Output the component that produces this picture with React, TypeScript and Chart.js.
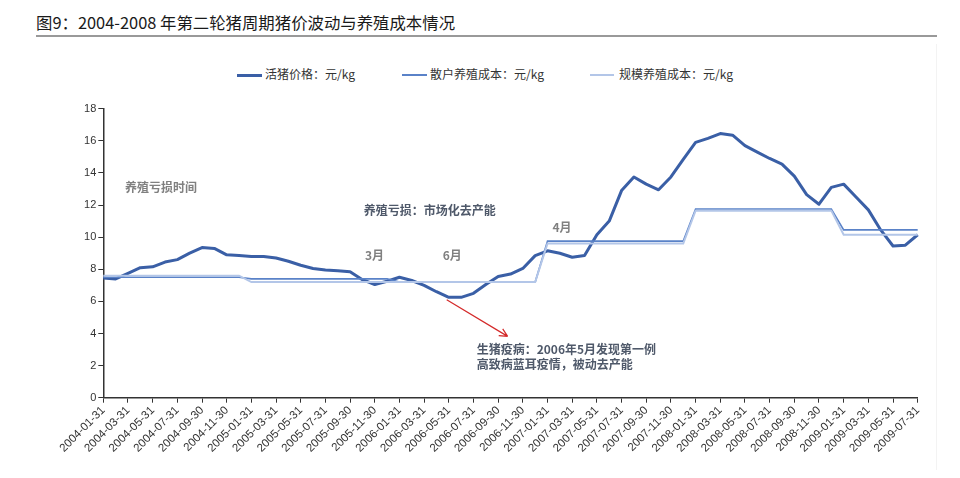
import React, { useEffect, useRef } from "react";
import { Chart, registerables } from "chart.js";

Chart.register(...registerables);

const MONTH_LABELS = [
  "2004-01-31", "2004-02-29", "2004-03-31", "2004-04-30", "2004-05-31", "2004-06-30",
  "2004-07-31", "2004-08-31", "2004-09-30", "2004-10-31", "2004-11-30", "2004-12-31",
  "2005-01-31", "2005-02-28", "2005-03-31", "2005-04-30", "2005-05-31", "2005-06-30",
  "2005-07-31", "2005-08-31", "2005-09-30", "2005-10-31", "2005-11-30", "2005-12-31",
  "2006-01-31", "2006-02-28", "2006-03-31", "2006-04-30", "2006-05-31", "2006-06-30",
  "2006-07-31", "2006-08-31", "2006-09-30", "2006-10-31", "2006-11-30", "2006-12-31",
  "2007-01-31", "2007-02-28", "2007-03-31", "2007-04-30", "2007-05-31", "2007-06-30",
  "2007-07-31", "2007-08-31", "2007-09-30", "2007-10-31", "2007-11-30", "2007-12-31",
  "2008-01-31", "2008-02-29", "2008-03-31", "2008-04-30", "2008-05-31", "2008-06-30",
  "2008-07-31", "2008-08-31", "2008-09-30", "2008-10-31", "2008-11-30", "2008-12-31",
  "2009-01-31", "2009-02-28", "2009-03-31", "2009-04-30", "2009-05-31", "2009-06-30",
  "2009-07-31",
];

// 活猪价格：元/kg
const PRICE = [
  7.45, 7.4, 7.75, 8.1, 8.15, 8.45, 8.6, 9.0, 9.35, 9.3, 8.9, 8.85,
  8.8, 8.8, 8.7, 8.5, 8.25, 8.05, 7.95, 7.9, 7.85, 7.35, 7.05, 7.25,
  7.5, 7.3, 7.0, 6.6, 6.25, 6.25, 6.5, 7.05, 7.55, 7.7, 8.05, 8.85,
  9.15, 9.0, 8.75, 8.85, 10.15, 11.0, 12.9, 13.75, 13.3, 12.95, 13.75, 14.85,
  15.9, 16.15, 16.45, 16.35, 15.7, 15.3, 14.9, 14.55, 13.8, 12.65, 12.05, 13.1,
  13.3, 12.5, 11.7, 10.45, 9.45, 9.5, 10.15,
];

// 散户养殖成本：元/kg
const RETAIL_COST = [
  7.5, 7.5, 7.5, 7.5, 7.5, 7.5, 7.5, 7.5, 7.5, 7.5, 7.5, 7.5,
  7.4, 7.4, 7.4, 7.4, 7.4, 7.4, 7.4, 7.4, 7.4, 7.4, 7.4, 7.4,
  7.2, 7.2, 7.2, 7.2, 7.2, 7.2, 7.2, 7.2, 7.2, 7.2, 7.2, 7.2,
  9.75, 9.75, 9.75, 9.75, 9.75, 9.75, 9.75, 9.75, 9.75, 9.75, 9.75, 9.75,
  11.75, 11.75, 11.75, 11.75, 11.75, 11.75, 11.75, 11.75, 11.75, 11.75, 11.75, 11.75,
  10.45, 10.45, 10.45, 10.45, 10.45, 10.45, 10.45,
];

// 规模养殖成本：元/kg
const SCALE_COST = [
  7.6, 7.6, 7.6, 7.6, 7.6, 7.6, 7.6, 7.6, 7.6, 7.6, 7.6, 7.6,
  7.2, 7.2, 7.2, 7.2, 7.2, 7.2, 7.2, 7.2, 7.2, 7.2, 7.2, 7.2,
  7.2, 7.2, 7.2, 7.2, 7.2, 7.2, 7.2, 7.2, 7.2, 7.2, 7.2, 7.2,
  9.6, 9.6, 9.6, 9.6, 9.6, 9.6, 9.6, 9.6, 9.6, 9.6, 9.6, 9.6,
  11.65, 11.65, 11.65, 11.65, 11.65, 11.65, 11.65, 11.65, 11.65, 11.65, 11.65, 11.65,
  10.15, 10.15, 10.15, 10.15, 10.15, 10.15, 10.15,
];

const SERIES_NAMES = ["活猪价格：元/kg", "散户养殖成本：元/kg", "规模养殖成本：元/kg"];
const TITLE = "图9：2004-2008 年第二轮猪周期猪价波动与养殖成本情况";

const Y_MIN = 0;
const Y_MAX = 18;
const Y_STEP = 2;

const COLORS = {
  price: "#3a5fa6",
  retail: "#5a82c8",
  scale: "#b3c6e8",
  gray: "#808080",
  note: "#4f596a",
  arrow: "#d42a2a",
};

// annotation texts, anchored in data coordinates (category index, value)
const NOTES = [
  { text: "养殖亏损时间", x: 1.76, y: 13.08, color: COLORS.gray },
  { text: "养殖亏损：市场化去产能", x: 21.1, y: 11.64, color: COLORS.note },
  { text: "3月", x: 21.2, y: 8.86, color: COLORS.gray },
  { text: "6月", x: 27.5, y: 8.86, color: COLORS.gray },
  { text: "4月", x: 36.4, y: 10.6, color: COLORS.gray },
  { text: "生猪疫病：2006年5月发现第一例", x: 30.26, y: 3.03, color: COLORS.note },
  { text: "高致病蓝耳疫情，被动去产能", x: 30.26, y: 2.1, color: COLORS.note },
];
const ARROW = { x1: 27.83, y1: 6.1, x2: 32.77, y2: 3.82 };

const CJK = '"Noto Sans CJK SC", "Noto Sans", sans-serif';
const LATIN = '"Liberation Sans", Arial, sans-serif';

const W = 944;
const H = 462;
const AREA_LEFT = 95.3;
const AREA_RIGHT = 909.7;
const AREA_TOP = 100.7;
const AREA_BOTTOM = 389.7;

const notesPlugin = {
  id: "notes",
  afterDatasetsDraw(chart: any) {
    const { ctx } = chart;
    const xs = chart.scales.x;
    const ys = chart.scales.y;
    ctx.save();
    ctx.font = `bold 12px ${CJK}`;
    ctx.textAlign = "left";
    ctx.textBaseline = "middle";
    for (const n of NOTES) {
      ctx.fillStyle = n.color;
      ctx.fillText(n.text, xs.getPixelForValue(n.x), ys.getPixelForValue(n.y));
    }
    const ax1 = xs.getPixelForValue(ARROW.x1);
    const ay1 = ys.getPixelForValue(ARROW.y1);
    const ax2 = xs.getPixelForValue(ARROW.x2);
    const ay2 = ys.getPixelForValue(ARROW.y2);
    ctx.strokeStyle = COLORS.arrow;
    ctx.lineWidth = 1.2;
    ctx.beginPath();
    ctx.moveTo(ax1, ay1);
    ctx.lineTo(ax2, ay2);
    const ang = Math.atan2(ay2 - ay1, ax2 - ax1);
    const len = 9;
    ctx.moveTo(ax2, ay2);
    ctx.lineTo(ax2 - len * Math.cos(ang - 0.45), ay2 - len * Math.sin(ang - 0.45));
    ctx.moveTo(ax2, ay2);
    ctx.lineTo(ax2 - len * Math.cos(ang + 0.45), ay2 - len * Math.sin(ang + 0.45));
    ctx.stroke();
    ctx.restore();
  },
};

export default function App() {
  const canvasRef = useRef<HTMLCanvasElement | null>(null);

  useEffect(() => {
    if (!canvasRef.current) return;
    const chart = new Chart(canvasRef.current, {
      type: "line",
      data: {
        labels: MONTH_LABELS,
        datasets: [
          {
            label: SERIES_NAMES[2],
            data: SCALE_COST,
            borderColor: COLORS.scale,
            backgroundColor: COLORS.scale,
            borderWidth: 2,
            pointRadius: 0,
            tension: 0,
          },
          {
            label: SERIES_NAMES[1],
            data: RETAIL_COST,
            borderColor: COLORS.retail,
            backgroundColor: COLORS.retail,
            borderWidth: 1.6,
            pointRadius: 0,
            tension: 0,
          },
          {
            label: SERIES_NAMES[0],
            data: PRICE,
            borderColor: COLORS.price,
            backgroundColor: COLORS.price,
            borderWidth: 3,
            pointRadius: 0,
            tension: 0,
            borderJoinStyle: "round",
          },
        ],
      },
      options: {
        responsive: false,
        animation: false,
        devicePixelRatio: 1,
        layout: {
          padding: { top: AREA_TOP, left: 0, right: W - AREA_RIGHT, bottom: 0 },
        },
        plugins: {
          legend: { display: false },
          title: { display: false },
          tooltip: { enabled: false },
        },
        scales: {
          x: {
            type: "category",
            offset: false,
            grid: {
              display: true,
              drawOnChartArea: false,
              drawTicks: true,
              tickLength: 5,
              color: "#333",
              lineWidth: 1,
            },
            border: { display: true, color: "#333", width: 1.5 },
            ticks: {
              autoSkip: false,
              minRotation: 45,
              maxRotation: 45,
              padding: 1,
              color: "#333",
              font: { family: LATIN, size: 11.5 },
              callback: (_v: any, i: number) => (i % 2 === 0 ? MONTH_LABELS[i] : null),
            },
            afterFit: (s: any) => {
              s.height = H - AREA_BOTTOM;
            },
          },
          y: {
            min: Y_MIN,
            max: Y_MAX,
            grid: {
              display: true,
              drawOnChartArea: false,
              drawTicks: true,
              tickLength: 5,
              color: "#333",
            },
            border: { display: true, color: "#333", width: 1.5 },
            ticks: {
              stepSize: Y_STEP,
              padding: 2,
              color: "#333",
              font: { family: LATIN, size: 11 },
            },
            afterFit: (s: any) => {
              s.width = AREA_LEFT;
            },
          },
        },
      },
      plugins: [notesPlugin],
    } as any);
    return () => chart.destroy();
  }, []);

  const legendItems = [
    { name: SERIES_NAMES[0], color: COLORS.price, lineLeft: 229, lineWidth: 25, thick: 3, textLeft: 257 },
    { name: SERIES_NAMES[1], color: COLORS.retail, lineLeft: 394, lineWidth: 25, thick: 2, textLeft: 422 },
    { name: SERIES_NAMES[2], color: COLORS.scale, lineLeft: 582, lineWidth: 24, thick: 2, textLeft: 611 },
  ];

  return (
    <div style={{ position: "relative", width: W, height: H, background: "#fff" }}>
      <div
        style={{
          position: "absolute",
          left: 28,
          top: 4,
          fontFamily: CJK,
          fontSize: 16.4,
          lineHeight: "20px",
          color: "#1a1a1a",
          whiteSpace: "nowrap",
        }}
      >
        {TITLE}
      </div>
      <div
        style={{
          position: "absolute",
          left: 28,
          top: 27,
          width: 901,
          height: 2,
          background: "#999",
        }}
      />
      <div
        style={{
          position: "absolute",
          left: 928,
          top: 36,
          width: 1,
          height: H - 36,
          background: "#f3f3f3",
        }}
      />
      {legendItems.map((it) => (
        <React.Fragment key={it.name}>
          <div
            style={{
              position: "absolute",
              left: it.lineLeft,
              top: 67 - it.thick / 2,
              width: it.lineWidth,
              height: it.thick,
              background: it.color,
            }}
          />
          <div
            style={{
              position: "absolute",
              left: it.textLeft,
              top: 59,
              fontFamily: CJK,
              fontSize: 12,
              lineHeight: "14px",
              color: "#333",
              whiteSpace: "nowrap",
            }}
          >
            {it.name}
          </div>
        </React.Fragment>
      ))}
      <canvas
        ref={canvasRef}
        width={W}
        height={H}
        style={{ position: "absolute", left: 0, top: 0, width: W, height: H, display: "block" }}
      />
    </div>
  );
}
